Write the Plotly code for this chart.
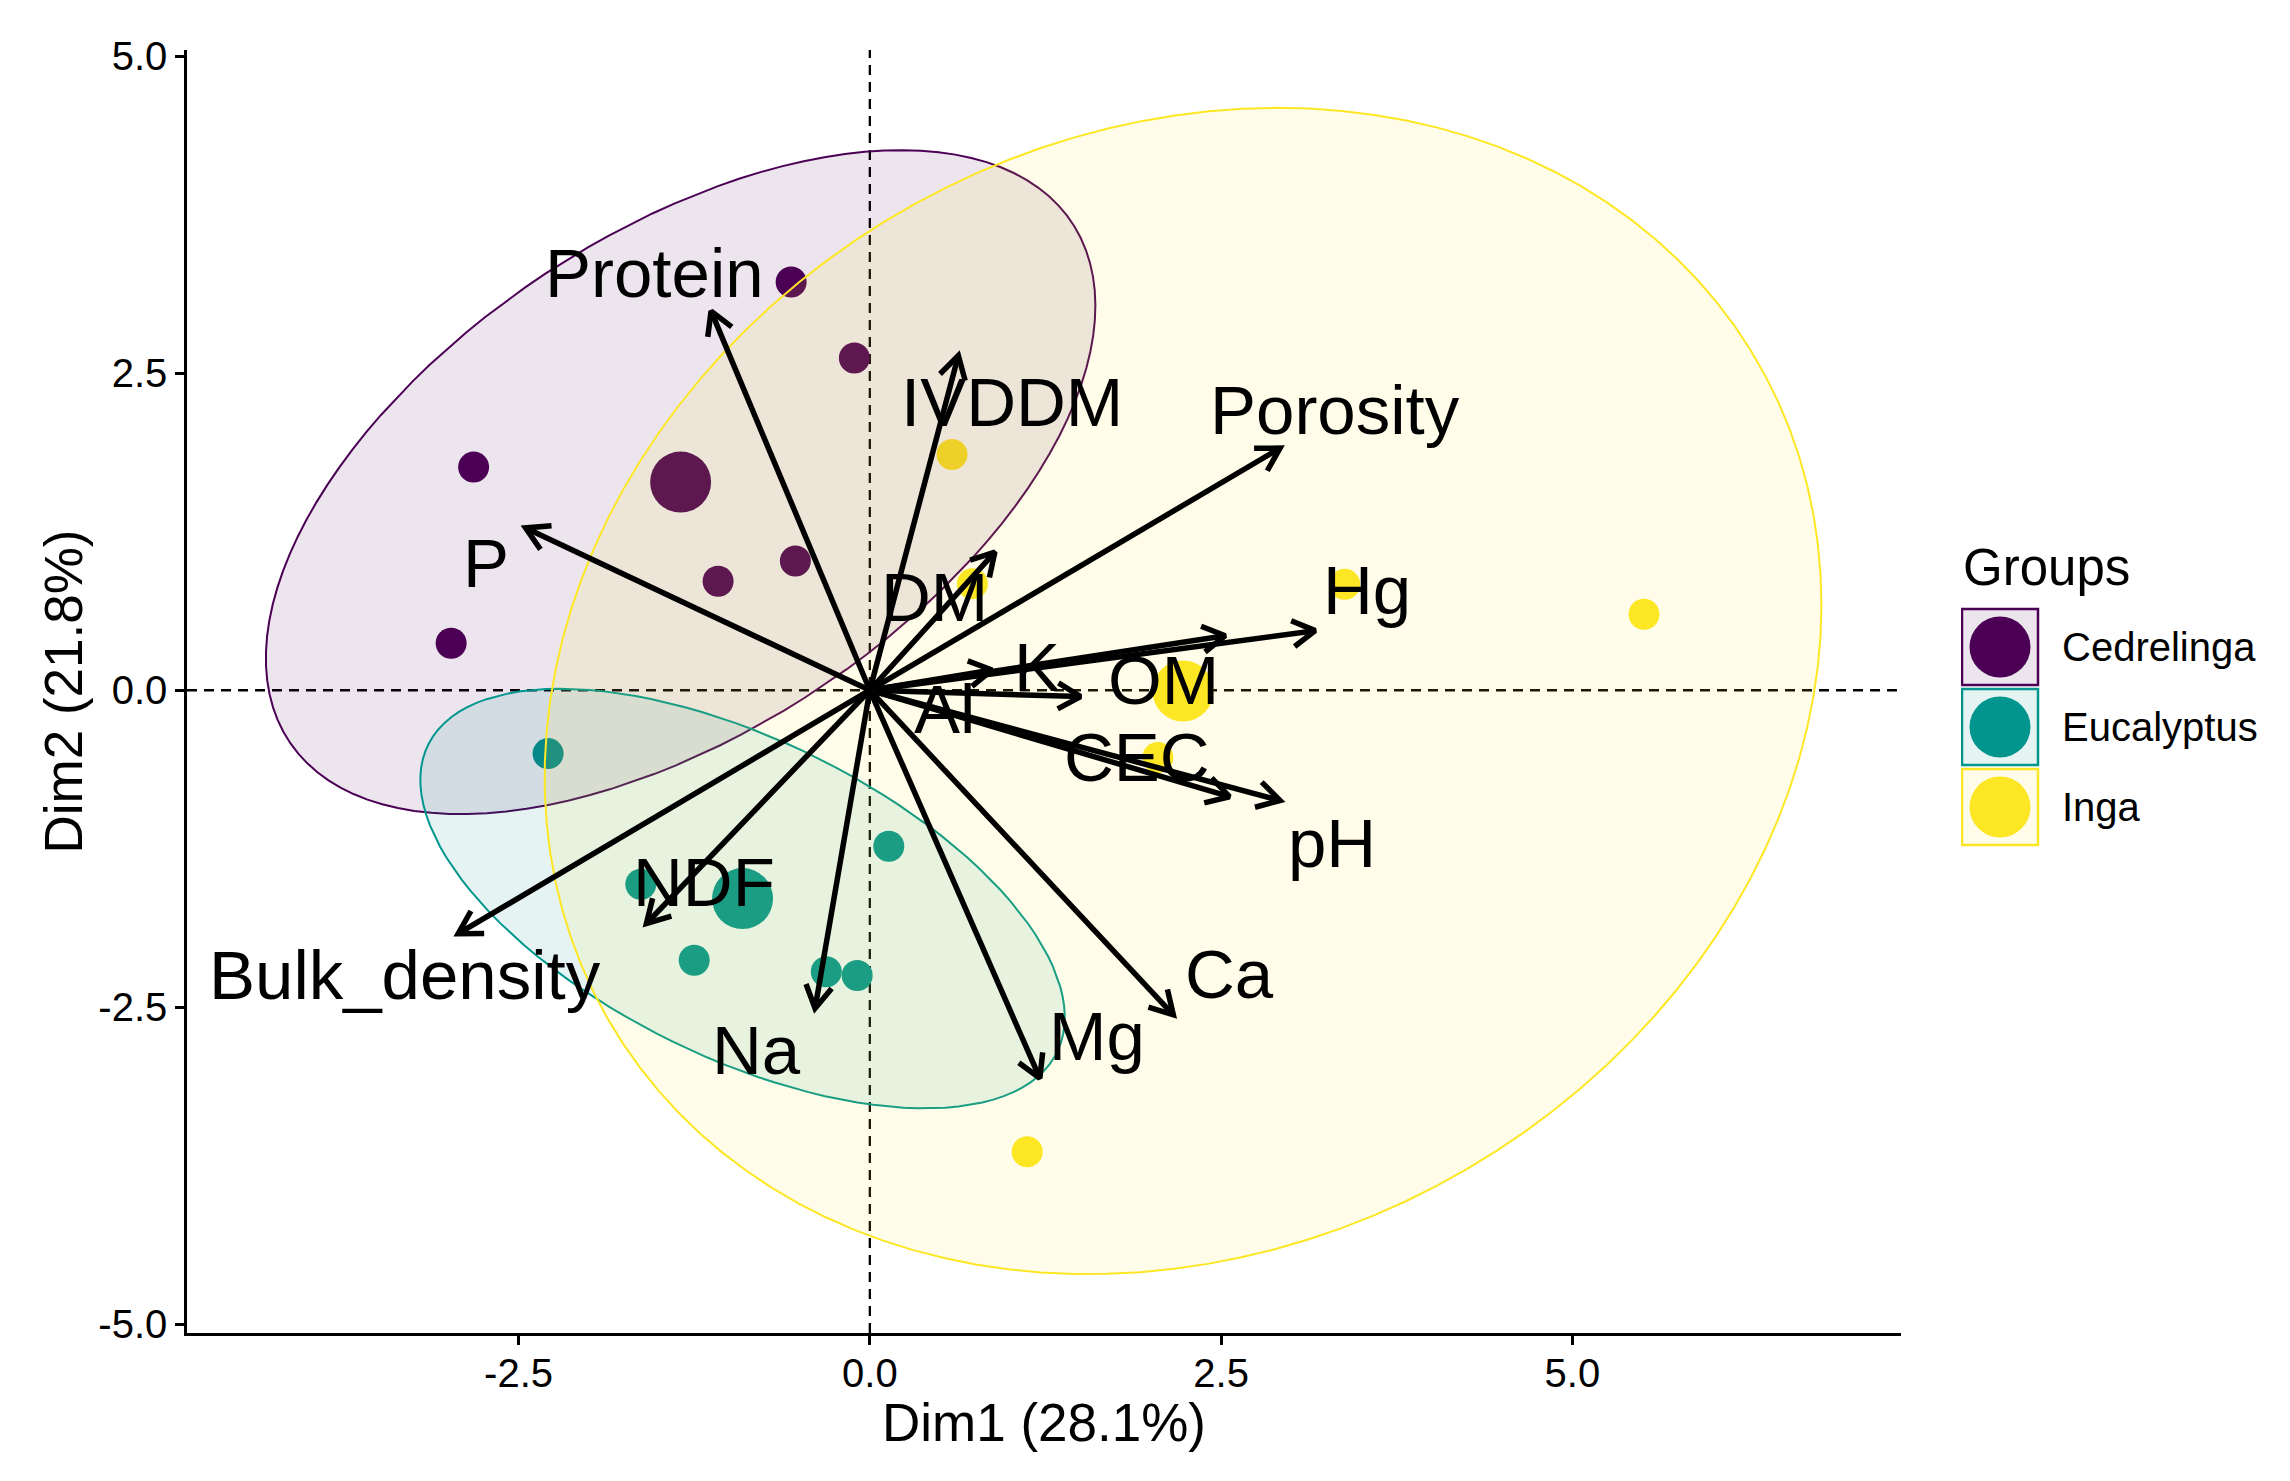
import numpy as np
import plotly.graph_objects as go

# groups and their individuals (PCA scores, Dim1 / Dim2)
groups = ["Cedrelinga", "Eucalyptus", "Inga"]
colors = ["#4B0055", "#00968E", "#FDE725"]
fills = ["rgba(75,0,85,0.1)", "rgba(0,150,142,0.1)", "rgba(253,231,37,0.1)"]

ced_x = [-0.56, -0.11, -2.82, -0.53, -1.08, -2.98]
ced_y = [3.22, 2.62, 1.76, 1.02, 0.86, 0.37]
euc_x = [-2.29, 0.135, -1.63, -1.25, -0.31, -0.09]
euc_y = [-0.50, -1.23, -1.53, -2.13, -2.22, -2.25]
inga_x = [0.585, 0.73, 3.38, 5.51, 2.05, 1.12]
inga_y = [1.86, 0.84, 0.835, 0.60, -0.53, -3.64]

# variables (arrows)
var_names = ["Protein", "IVDDM", "P", "DM", "Porosity", "Hg", "OM", "K",
             "Al", "CEC", "pH", "Ca", "Mg", "Na", "NDF", "Bulk_density"]
var_x = [-1.13, 0.63, -2.45, 0.89, 2.92, 3.17, 2.53, 0.87,
         1.50, 2.56, 2.92, 2.16, 1.21, -0.39, -1.59, -2.93]
var_y = [2.99, 2.64, 1.28, 1.09, 1.91, 0.47, 0.43, 0.16,
         -0.05, -0.84, -0.87, -2.56, -3.06, -2.51, -1.84, -1.92]
# where the (repelled) labels ended up
lab_order = ["Protein", "IVDDM", "Porosity", "P", "DM", "Hg", "OM", "K",
             "Al", "CEC", "pH", "Ca", "Mg", "Na", "NDF", "Bulk_density"]
lab_x = [-1.53, 1.01, 3.31, -2.73, 0.46, 3.54, 2.09, 1.19,
         0.53, 1.90, 3.29, 2.56, 1.62, -0.81, -1.18, -3.31]
lab_y = [3.29, 2.27, 2.21, 1.00, 0.73, 0.79, 0.08, 0.18,
         -0.15, -0.53, -1.21, -2.24, -2.73, -2.84, -1.52, -2.25]
lab_pos = {n: (lx, ly) for n, lx, ly in zip(lab_order, lab_x, lab_y)}

x_ticks = [-2.5, 0.0, 2.5, 5.0]
x_ticktext = ["-2.5", "0.0", "2.5", "5.0"]
y_ticks = [-5.0, -2.5, 0.0, 2.5, 5.0]
y_ticktext = ["-5.0", "-2.5", "0.0", "2.5", "5.0"]

ell_radius = 2.375

# page has an 8px body margin, so the figure is a bit smaller than the window
W, H = 2274, 1465
ml, mr, mt, mb = 179, 12, 42, 140
pw, ph = W - ml - mr, H - mt - mb
xdom = 0.8229
xr = [-4.86, 7.34]
yr = [-5.07, 5.05]
sx = pw * xdom / (xr[1] - xr[0])
sy = ph / (yr[1] - yr[0])

font = "Liberation Sans, Arial, sans-serif"
fig = go.Figure()

pts = [(ced_x, ced_y), (euc_x, euc_y), (inga_x, inga_y)]

# individuals + group mean points
for (gx, gy), col in zip(pts, colors):
    fig.add_trace(go.Scatter(x=gx, y=gy, mode="markers",
                             marker=dict(size=31, color=col), showlegend=False))
    fig.add_trace(go.Scatter(x=[np.mean(gx)], y=[np.mean(gy)], mode="markers",
                             marker=dict(size=61, color=col), showlegend=False))

# normal ellipses, drawn over the points
t = np.linspace(0, 2 * np.pi, 120)
for (gx, gy), col, fc in zip(pts, colors, fills):
    c = np.cov(np.array(gx), np.array(gy))
    vals, vecs = np.linalg.eigh(c)
    circ = np.vstack([np.cos(t), np.sin(t)]) * np.sqrt(vals)[:, None] * ell_radius
    e = vecs @ circ
    fig.add_trace(go.Scatter(x=np.mean(gx) + e[0], y=np.mean(gy) + e[1],
                             mode="lines", fill="toself", fillcolor=fc,
                             line=dict(color=col, width=2), showlegend=False,
                             hoverinfo="skip"))

# arrows with open heads (head computed in pixel space)
ax_, ay_ = [], []
head_len, head_ang = 26, np.radians(30)
for tx, ty in zip(var_x, var_y):
    ang = np.arctan2(ty * sy, tx * sx)
    hx = [tx + head_len * np.cos(ang + np.pi + s * head_ang) / sx for s in (1, -1)]
    hy = [ty + head_len * np.sin(ang + np.pi + s * head_ang) / sy for s in (1, -1)]
    ax_ += [0, tx, None, hx[0], tx, hx[1], None]
    ay_ += [0, ty, None, hy[0], ty, hy[1], None]
fig.add_trace(go.Scatter(x=ax_, y=ay_, mode="lines",
                         line=dict(color="black", width=5.5), showlegend=False,
                         hoverinfo="skip"))

annotations = []
for n in var_names:
    lx, ly = lab_pos[n]
    annotations.append(dict(x=lx, y=ly, xref="x", yref="y", text=n, showarrow=False,
                            font=dict(family=font, size=69, color="black"),
                            xanchor="center", yanchor="middle"))

# axis titles
annotations.append(dict(x=xdom / 2, y=-89 / ph, xref="paper", yref="paper",
                        text="Dim1 (28.1%)", showarrow=False,
                        font=dict(family=font, size=53, color="black"),
                        xanchor="center", yanchor="middle"))
annotations.append(dict(x=-124 / pw, y=0.5, xref="paper", yref="paper",
                        text="Dim2 (21.8%)", showarrow=False, textangle=-90,
                        font=dict(family=font, size=53, color="black"),
                        xanchor="center", yanchor="middle"))

shapes = [
    dict(type="line", xref="x", yref="paper", x0=0, x1=0, y0=0, y1=1, layer="below",
         line=dict(color="black", width=2.3, dash="10px,7px")),
    dict(type="line", xref="paper", yref="y", x0=0, x1=xdom, y0=0, y1=0, layer="below",
         line=dict(color="black", width=2.3, dash="10px,7px")),
]

# legend built on its own small axes (pixel-like units)
row_gap = 80
leg_top, leg_bot, row0 = 532, 842, 639
for i, (g, col, fc) in enumerate(zip(groups, colors, fills)):
    shapes.append(dict(type="rect", xref="x2", yref="y2", x0=1, x1=77,
                       y0=i - 0.475, y1=i + 0.475, fillcolor=fc,
                       line=dict(color=col, width=2.5)))
    fig.add_trace(go.Scatter(x=[39], y=[i], mode="markers", xaxis="x2", yaxis="y2",
                             marker=dict(size=61, color=col), showlegend=False,
                             hoverinfo="skip"))
    annotations.append(dict(x=99, y=i, xref="x2", yref="y2", text=g, showarrow=False,
                            font=dict(family=font, size=40, color="black"),
                            xanchor="left", yanchor="middle"))
annotations.append(dict(x=0, y=-1.0, xref="x2", yref="y2", text="Groups", showarrow=False,
                        font=dict(family=font, size=51, color="black"),
                        xanchor="left", yanchor="middle"))

axis_common = dict(showgrid=False, zeroline=False, showline=True, linecolor="black",
                   linewidth=2.5, ticks="outside", ticklen=9, tickwidth=2.5,
                   tickcolor="black", tickfont=dict(family=font, size=40, color="black"))

leg_x0 = 1953
fig.update_layout(
    width=W, height=H,
    margin=dict(l=ml, r=mr, t=mt, b=mb),
    plot_bgcolor="white", paper_bgcolor="white",
    showlegend=False,
    xaxis=dict(domain=[0, xdom], range=xr, tickvals=x_ticks, ticktext=x_ticktext,
               ticklabelstandoff=-6, **axis_common),
    yaxis=dict(domain=[0, 1], range=yr, tickvals=y_ticks, ticktext=y_ticktext,
               **axis_common),
    xaxis2=dict(domain=[(leg_x0 - ml) / pw, 1.0], range=[0, W - mr - leg_x0],
                visible=False, anchor="y2"),
    yaxis2=dict(domain=[(H - mb - leg_bot) / ph, (H - mb - leg_top) / ph],
                range=[(leg_bot - row0) / row_gap, (leg_top - row0) / row_gap],
                visible=False, anchor="x2"),
    shapes=shapes,
    annotations=annotations,
)

fig.write_html("out.html")
